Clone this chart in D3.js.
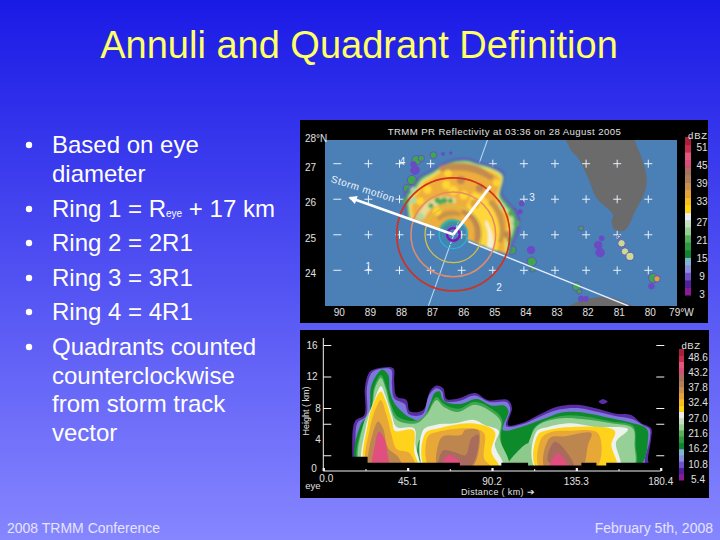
<!DOCTYPE html>
<html><head><meta charset="utf-8">
<script src="https://cdn.jsdelivr.net/npm/d3@7/dist/d3.min.js"></script>
<style>html,body{margin:0;padding:0;background:#2020e8;overflow:hidden}svg{display:block}text{font-family:"Liberation Sans",Arial,sans-serif}</style>
</head><body><div id="c"></div>
<script>
// ---------- slide text ----------
const titleText = "Annuli and Quadrant Definition";
const bulletLines = [
  ["Based on eye", true], ["diameter", false], ["Ring 1 = R|eye| + 17 km", true], ["Ring 2 = 2R1", true],
  ["Ring 3 = 3R1", true], ["Ring 4 = 4R1", true], ["Quadrants counted", true], ["counterclockwise", false],
  ["from storm track", false], ["vector", false]];
const bulletBaselines = [153,182,217,251,286,320,355,384,412,441];
const footerLeft = "2008 TRMM Conference", footerRight = "February 5th, 2008";

// ---------- map axes ----------
const mapTitle = "TRMM PR Reflectivity at 03:36 on 28 August 2005";
const lonTicks = [90,89,88,87,86,85,84,83,82,81,80,79];
const latTicks = [28,27,26,25,24];
const crossLons = [89,88,87,86,85,84,83,82,81,80];
const crossLats = [27,26,25,24];
const quadrantLabels = [["4",87.9,27.09],["3",83.74,26.06],["1",89.0,24.13],["2",84.8,23.53]];

// ---------- map geography (lon, lat) ----------
const florida = [[82.66,27.9],[80.43,27.9],[80.43,27.67],[80.21,27.15],[80.05,26.59],[80.11,26.21],[80.43,25.65],[80.75,25.13],[81.07,25.13],[81.18,25.37],[81.13,25.56],[81.66,26.03],[81.93,26.59],[82.25,27.15],[82.52,27.43]];
const cuba = [[82.79,22.8],[82.25,23.12],[81.18,23.23],[80.21,22.8]];
const trackNorth = [[85.17,27.67],[87.07,23.0]];
const trackEast = [[85.79,24.81],[80.64,23.0]];
const stormCentre = [86.27,25.01];
const motionTip = [89.59,26.04];
const rightTip = [85.07,26.37];

// ---------- rings, km ----------
const ringKm = [180.4,135.3,90.2,45.1,34,20];
const ringColours = ["#d0321f","#e58a68","#d8c044","#22b6d8","#2c9c9c","#7a18b4"];
const ringWidths = [1.7,1.5,1.3,1.3,1,2.4];

// ---------- storm reflectivity, bearing (deg) and km from eye ----------
const bearings = [-70,-60,-50,-40,-30,-20,-10,0,10,20,30,40,50,60,70,80,90,100,110];
const rimPurple = [161,178,204,204,215,217,227,240,247,246,253,254,204,205,217,217,204,192,191];
const rimGreen  = [155,172,197,198,209,211,221,234,241,240,247,248,198,199,208,208,196,186,187];
const rimPale   = [148,165,188,190,202,205,216,229,236,236,243,244,192,190,198,198,188,180,184];
const rimYellow = [142,158,178,182,195,199,211,224,231,231,238,238,185,180,188,186,178,172,180];
const rimOrange = [135,150,168,172,185,190,203,216,224,224,230,230,178,172,178,175,168,165,175];
const rimInner  = [48,48,46,46,46,46,46,46,46,46,46,46,46,46,46,46,46,46,46];
// bands: [bearing, inner km, outer km]
const bandYellowEast = [[25,98,150],[40,92,155],[60,92,150],[80,92,148],[100,90,148],[111,90,150]];
const bandWhiteEast = [[68,108,116],[85,110,122],[100,112,130],[111,115,135]];
const bandBrownInner = [[20,72,84],[45,72,90],[70,70,90],[95,68,88],[108,70,85]];
const bandBrownOuter = [[48,150,166],[65,152,170],[85,150,165],[100,145,158]];
const bandBrownNorth = [[-12,205,222],[5,205,230],[20,208,232],[35,210,228]];
const bandBrownWest = [[-45,62,76],[-20,60,78],[5,60,76],[20,62,72]];
const bandPaleNW = [[-62,106,130],[-40,108,132],[-18,102,126],[4,100,116]];
const bandInnerGreen = [[-75,38,50],[-40,38,50],[-5,38,50],[25,38,46]];
// mottling spots inside the echo: bearing, km, radius km, colour index
const spotBearing = [-62,-50,-45,-35,-30,-25,-15,-8,0,8,15,30,35,40,-5,60,70,80,95,90,-55,-42,-38,-22,-5];
const spotKm      = [120,170,150,90,165,120,112,160,140,175,130,170,120,215,195,180,195,205,180,170,185,190,116,112,108];
const spotSize    = [12,12,12,13,13,9,10,14,15,13,14,13,15,11,12,10,9,10,9,11,10,10,8,9,8];
const spotKind    = [1,1,4,4,4,3,3,4,4,0,4,0,5,4,4,1,3,3,3,0,3,1,3,3,3];
const spotFill = ["#c08a50","#b0d8a0","#f4f0d8","#4fa85a","#ffd634","#e6a23a"];
// isolated cells: lon, lat, radius km, colour index
const cellLons = [83.75,83.72,83.77,84.29,84.34,84.07,84.12,84.39,82.30,82.22,81.61,81.55,81.5,80.75,80.86,80.59,80.95,82.16,79.84,79.72,79.9,82.16,82.0,87.45,87.3,87.5,87.55,86.91,87.6,87.75,86.6,86.35];
const cellLats = [24.24,24.02,24.57,25.37,25.62,25.88,25.65,24.57,23.54,23.4,24.71,24.5,24.9,24.53,24.76,24.39,24.95,25.18,23.78,23.76,23.55,23.2,23.2,27.1,27.15,26.82,26.98,27.24,26.54,26.3,27.28,27.3];
const cellKm   = [15,8,12,16,13,8,7,14,14,8,12,14,8,12,12,13,5,8,15,10,9,9,8,15,10,14,9,11,15,13,5,4];
const cellKind = [1,1,0,1,1,0,0,1,1,1,0,0,0,2,2,2,2,1,1,3,0,0,0,1,1,0,0,1,1,1,0,0];
const cellFill = ["#6a4cc4","#3ea650","#c6dc90","#e0a040"];

// ---------- colour bars ----------
const topBarColours = ["#8a1a98","#521f9c","#6e50c8","#8a8ce0","#80b2d6","#0c8430","#2c9a40","#58ae5a","#96cf92","#c4dfc0","#ececec","#ffd410","#f6bc20","#e6a238","#c89050","#b07e58","#a8705e","#d84c78","#e0587e","#c82c50","#a82038"];
const topBarLabels = ["51","45","39","33","27","21","15","9","3"];
const topBarLabelY = [147,165,183,201,222,240,258,276,294];
const sectionBarLabels = ["48.6","43.2","37.8","32.4","27.0","21.6","16.2","10.8","5.4"];
const sectionBarLabelY = [357,372,387,402,418,433,448,464,479];

// ---------- vertical section ----------
const heightTicks = [16,12,8,6,2];
const heightLabels = [["16",16,312],["12",12,312],["8",8,318],["4",3.95,318],["0",0.3,314]];
const distMajor = [0,45.1,90.2,135.3,180.4];
const distMinor = [22.55,67.65,112.75,157.85];
const groundDist = [14,23.7,73,95.2,109.5,138,146,151.3,178];
const groundTop  = [1.8,1.06,0.7,1.06,0.7,1.06,0.7,1.06,1.06];
const secPurple = [[15.5,0.4],[15.5,1.8],[16.9,6.3],[21.9,7.1],[22.3,10.7],[24.9,12.6],[29.4,13.05],[37.4,13.05],[37.9,11.4],[39.2,9.45],[44.5,9],[46.3,7.6],[53.4,7.75],[57,10.1],[60.5,10.85],[64.1,10.5],[65.9,9.15],[72.1,9.2],[81,9.9],[88.1,9],[98.8,9],[100.9,8],[98.8,5.85],[105.9,6.05],[116.6,7.3],[125.5,8.2],[136.2,8.4],[145.1,8],[155.8,7.3],[164.7,7.1],[170,6.05],[175.3,5.4],[175.3,4.15],[173.6,1.6],[173.6,0.4]];
const secLavender = [[17.5,0.4],[17.5,1.8],[18.2,6.1],[22.9,7],[23.4,10.7],[26,12.5],[30,12.95],[36.2,12.9],[36.7,11],[38,9.2],[43.5,8.5],[45.8,7.2],[53,7.2],[56.5,9.6],[60.5,10.5],[63.5,10.1],[65,8.9],[72.5,8.9],[81,9.6],[89,8.75],[98,8.75],[100,7.9],[97.8,5.7],[106,5.9],[116.6,7],[126,7.8],[136.2,8],[145,7.6],[156,7],[165,6.6],[171,5.8],[174.5,5.3],[174.5,4],[172,1.6],[171,0.4]];
const secGreen = [[19,0.4],[20,5.9],[24.4,7.1],[25.5,10.7],[28.5,12.2],[31.5,12.9],[34.7,12.2],[35.6,10.1],[38.3,8.5],[41.8,7.6],[46.3,6.8],[52.5,6.4],[57,8.5],[59.6,9.9],[62.3,10.1],[64.1,9],[73,8.5],[82,9.15],[90,8.3],[97,8.3],[99,7.6],[96,5.2],[105.9,5.6],[116.6,6.5],[127,7.4],[136,7.5],[154,6.7],[165,6.1],[172.8,5.4],[173.6,4],[168,0.4]];
const secMidGreen = [[20,0.4],[21,5.7],[25.5,7.4],[27,10.5],[30.8,12.2],[33.8,10.6],[36,8.6],[40,6.9],[50,6.4],[55.6,7.5],[60.5,9.4],[64.5,8.5],[72.1,7.9],[81,8.8],[90,7.9],[95.5,6.6],[95,4.2],[99,0.4],[109,0.4],[112,5.2],[116.6,6.2],[127.3,7],[138,7],[154,6.3],[165.7,5.7],[167,3.3],[166,0.4]];
const secPale1 = [[20.5,0.4],[21.4,5.85],[26.2,8.4],[27.6,10.5],[30.8,11.8],[33.3,10.5],[35.6,8.4],[39.2,6.5],[49.8,6.05],[55.2,7.1],[60.5,9],[64.1,8.2],[72.1,7.5],[81,8.4],[89.9,7.5],[94.9,6.3],[94.3,4.15],[98.8,0.4]];
const secPale2 = [[109.5,0.4],[112.1,5],[116.6,6.05],[127.3,6.7],[138,6.6],[154,6.05],[165.5,5.4],[166.4,3.3],[165.5,0.4]];
const secHoleGreen = [[50.6,1.4],[51.5,3.9],[54,3.5],[55,1.5]];
const secFloorPale = [[98,0.4],[104,2.5],[110,3.5],[112,0.4]];
const secWhite = [
 [[21.8,0.4],[22.6,5.4],[27.6,9.2],[30.8,10.75],[33.3,9.5],[36.5,7.2],[39.2,5.6],[48.6,5.4],[49.3,3.3],[50.8,0.4]],
 [[54,0.4],[53.4,5.2],[59.6,5.85],[70.3,6.05],[80.1,6.5],[86.3,5.85],[93.8,5.1],[91.7,3.3],[96.1,0.4]],
 [[113.4,0.4],[113.9,5],[120.2,5.6],[132.6,6.05],[145.1,5.6],[162.9,5.3],[156.6,3.7],[158.4,0.4]]];
const secYellow = [
 [[22.7,0.4],[23.7,5.85],[27.2,8.8],[30.8,10.1],[33.3,8.95],[36.8,6.3],[38.3,5.1],[48.1,5.2],[48.6,2.45],[50.4,0.4]],
 [[54.6,0.4],[54.6,4.8],[61.4,5.4],[79.2,6.05],[91.7,5],[89.9,2.45],[93.8,0.4]],
 [[113.9,0.4],[114.8,4.6],[120.2,5.2],[132.6,5.6],[155.8,5.1],[154,3.3],[156.6,0.4]]];
const secOrange = [
 [[23.7,0.4],[24.9,5.4],[28.5,8.2],[30.8,9],[33.8,7.1],[36.5,4.6],[39.2,2.8],[46,2.3],[49,0.4]],
 [[57,0.4],[56,4.4],[61.4,5],[79.2,5.4],[86,4.8],[86,1.6],[90,0.4]],
 [[115.7,0.4],[116.6,4.15],[121,4.9],[132.6,5.1],[146.9,4.8],[146,0.4]]];
const secBrown = [
 [[24.9,0.4],[26.7,5],[29.4,6.3],[32,5.4],[34.7,2.9],[40,1.8],[42,0.4]],
 [[61.4,0.4],[61.4,3.3],[64,4.4],[74,4.6],[75.7,5.2],[82.8,5.2],[83.7,3.7],[79.2,0.4]],
 [[118.4,0.4],[121,4.15],[129,4.4],[143.3,4.8],[141.5,3.3],[138,0.4]]];
const secMauve = [
 [[62,0.4],[64,2.6],[70,2.4],[76,2],[79.2,4.15],[82.8,4.6],[81.9,2],[78,0.4]],
 [[120.2,1.2],[123.7,3.7],[130.8,2.2],[134,0.4]]];
const secPink = [
 [[26.7,0.4],[27.6,3.3],[29.7,5],[32.6,4.15],[34.7,1.6],[35.6,0.4]],
 [[63.2,0.4],[66.8,2],[72.1,1.4],[73.9,0.4]],
 [[121,0.4],[125.5,2.25],[130.8,0.4]]];
const secStray = [[147.3,8.8],[149.5,9.1],[152,8.8],[149.5,8.5]];

// ---------- drawing ----------
const W=720,H=540;
const svg=d3.select("#c").append("svg").attr("width",W).attr("height",H);
const defs=svg.append("defs");
const grad=defs.append("linearGradient").attr("id","bg").attr("x1",0).attr("y1",0).attr("x2",0).attr("y2",1);
grad.append("stop").attr("offset",0).attr("stop-color","#1a1ae6");
grad.append("stop").attr("offset",1).attr("stop-color","#8686ff");
svg.append("rect").attr("width",W).attr("height",H).attr("fill","url(#bg)");
defs.append("filter").attr("id","soft").append("feGaussianBlur").attr("stdDeviation",0.6);
defs.append("filter").attr("id","softer").append("feGaussianBlur").attr("stdDeviation",1);
defs.append("clipPath").attr("id","mapClip").append("rect").attr("x",325).attr("y",140).attr("width",352).attr("height",166);
defs.append("clipPath").attr("id","secClip").append("rect").attr("x",323).attr("y",335).attr("width",345).attr("height",136);
defs.append("marker").attr("id","head").attr("viewBox","0 0 10 10").attr("refX",8).attr("refY",5)
  .attr("markerWidth",4).attr("markerHeight",3.2).attr("orient","auto")
  .append("path").attr("d","M0,0L10,5L0,10Z").attr("fill","#fff");

svg.append("text").attr("x",359).attr("y",58).attr("text-anchor","middle").attr("font-size",38).attr("fill","#ffff66").text(titleText);

// bullets
const bl=svg.append("g").attr("fill","#fff");
bulletLines.forEach(([t,dot],i)=>{
  const y=bulletBaselines[i];
  if(dot) bl.append("circle").attr("cx",29).attr("cy",y-8).attr("r",3.2);
  const tx=bl.append("text").attr("x",52).attr("y",y).attr("font-size",24);
  t.split("|").forEach((p,j)=>{ tx.append("tspan").attr("font-size",j==1?10:24).text(p); });
});
svg.append("text").attr("x",7).attr("y",533).attr("font-size",14).attr("fill","#e4e4ff").text(footerLeft);
svg.append("text").attr("x",713).attr("y",533).attr("text-anchor","end").attr("font-size",14).attr("fill","#e4e4ff").text(footerRight);

// panels
svg.append("rect").attr("x",300).attr("y",120).attr("width",408).attr("height",203).attr("fill","#000");
svg.append("rect").attr("x",300).attr("y",330).attr("width",409).attr("height",168).attr("fill","#000");

// map
const x=d3.scaleLinear().domain([90,80]).range([337.3,648.3]);
const y=d3.scaleLinear().domain([27,24]).range([163.7,270.3]);
const km=d3.scaleLinear().domain([0,180.4]).range([0,56.5]);
const rad=d=>d*Math.PI/180;
const geo=d3.line().x(d=>x(d[0])).y(d=>y(d[1]));
const map=svg.append("g").attr("clip-path","url(#mapClip)");
map.append("rect").attr("x",325).attr("y",140).attr("width",352).attr("height",166).attr("fill","#4a80b6");
const landPath=d3.line().x(d=>x(d[0])).y(d=>y(d[1])).curve(d3.curveCatmullRomClosed);
[florida,cuba].forEach(p=>map.append("path").attr("d",landPath(p)).attr("fill","#6b6b6b"));
const cr=map.append("g").attr("stroke","#e8f0f8").attr("stroke-width",1);
crossLats.forEach(la=>{
  cr.append("line").attr("x1",x(90)-4).attr("x2",x(90)+4).attr("y1",y(la)).attr("y2",y(la));
  crossLons.forEach(lo=>{
    cr.append("line").attr("x1",x(lo)-4).attr("x2",x(lo)+4).attr("y1",y(la)).attr("y2",y(la));
    cr.append("line").attr("x1",x(lo)).attr("x2",x(lo)).attr("y1",y(la)-4).attr("y2",y(la)+4);
  });
});
map.append("path").attr("d",geo(trackNorth)).attr("stroke","#b4d8f4").attr("stroke-width",1.1).attr("fill","none");

const cells=map.append("g").attr("filter","url(#soft)");
cellLons.forEach((lo,i)=>{
  cells.append("circle").attr("cx",x(lo)).attr("cy",y(cellLats[i])).attr("r",km(cellKm[i])).attr("fill",cellFill[cellKind[i]])
    .attr("stroke",cellFill[0]).attr("stroke-width",0.9);
});
const rain=map.append("g").attr("filter","url(#softer)");
const storm=rain.append("g").attr("transform",`translate(${x(stormCentre[0])},${y(stormCentre[1])})`);
const radial=(outer,inner)=>d3.areaRadial().curve(d3.curveCatmullRom)
  .angle((d,i)=>rad(bearings[i])).outerRadius((d,i)=>km(outer[i])).innerRadius((d,i)=>km(inner[i]))(bearings);
[[rimPurple,"#6a4cc4"],[rimGreen,"#3ea650"],[rimPale,"#b8dca0"],[rimYellow,"#ffd030"],[rimOrange,"#eeae3c"]].forEach(([r,c])=>
  storm.append("path").attr("d",radial(r,rimInner)).attr("fill",c));
const band=d3.areaRadial().curve(d3.curveCatmullRom).angle(d=>rad(d[0])).innerRadius(d=>km(d[1])).outerRadius(d=>km(d[2]));
[[bandYellowEast,"#ffd63a"],[bandWhiteEast,"#f4f0d8"],[bandBrownInner,"#c08a50"],[bandBrownOuter,"#c8944c"],[bandBrownNorth,"#c28c50"],
 [bandBrownWest,"#c89448"],[bandPaleNW,"#e6dc98"],[bandInnerGreen,"#4aa46a"]].forEach(([b,c])=>
  storm.append("path").attr("d",band(b)).attr("fill",c));
spotBearing.forEach((b,i)=>{
  storm.append("circle").attr("cx",km(spotKm[i])*Math.sin(rad(b))).attr("cy",-km(spotKm[i])*Math.cos(rad(b)))
    .attr("r",km(spotSize[i])).attr("fill",spotFill[spotKind[i]]);
});

map.append("path").attr("d",geo(trackEast)).attr("stroke","#e4ecff").attr("stroke-width",1.5).attr("fill","none");
const rings=map.append("g").attr("transform",`translate(${x(stormCentre[0])},${y(stormCentre[1])})`);
ringKm.forEach((r,i)=>rings.append("circle").attr("r",km(r)).attr("fill","none").attr("stroke",ringColours[i]).attr("stroke-width",ringWidths[i]));
map.append("path").attr("d",geo([stormCentre,motionTip])).attr("stroke","#fff").attr("stroke-width",2.6).attr("fill","none").attr("marker-end","url(#head)");
map.append("path").attr("d",geo([stormCentre,rightTip])).attr("stroke","#fff").attr("stroke-width",2.8).attr("fill","none");
svg.append("text").attr("transform","translate(362,192) rotate(18)").attr("text-anchor","middle").attr("font-size",10).attr("letter-spacing",0.6).attr("fill","#f0f4ff").text("Storm motion");
quadrantLabels.forEach(([t,lo,la])=>svg.append("text").attr("x",x(lo)).attr("y",y(la)+4).attr("text-anchor","middle").attr("font-size",10).attr("fill","#f0f4ff").text(t));

const panelText=(g,t,px,py,a="middle",fs=10)=>g.append("text").attr("x",px).attr("y",py).attr("text-anchor",a).attr("font-size",fs).attr("fill","#e0e0e0").text(t);
panelText(svg,mapTitle,504.5,134.5,"middle",9.6).attr("letter-spacing",0.42);
lonTicks.forEach(l=>panelText(svg,l===79?"79°W":String(l),x(l)+2,316));
latTicks.forEach(l=>{
  if(l===28) panelText(svg,"28°N",305,142,"start");
  else panelText(svg,String(l),305,y(l)+7,"start");
});

// colour bars
const barY=d3.scaleBand().domain(d3.range(topBarColours.length)).range([295,137]);
svg.append("g").selectAll("rect").data(topBarColours).join("rect").attr("x",685).attr("width",6)
  .attr("y",(d,i)=>barY(i)).attr("height",barY.bandwidth()+0.5).attr("fill",d=>d);
panelText(svg,"dBZ",698,139,"middle",9.5).attr("letter-spacing",0.8);
topBarLabels.forEach((t,i)=>panelText(svg,t,702,topBarLabelY[i]+3.5,"middle"));
const barS=d3.scaleBand().domain(d3.range(topBarColours.length)).range([480,349]);
svg.append("g").selectAll("rect.s").data(topBarColours).join("rect").attr("x",679).attr("width",5)
  .attr("y",(d,i)=>barS(i)).attr("height",barS.bandwidth()+0.5).attr("fill",d=>d);
panelText(svg,"dBZ",691,349,"middle",9.5).attr("letter-spacing",0.6);
sectionBarLabels.forEach((t,i)=>panelText(svg,t,698,sectionBarLabelY[i]+3.5,"middle"));

// section
const sx=d3.scaleLinear().domain([0,180.4]).range([323.3,660.7]);
const sy=d3.scaleLinear().domain([0,16]).range([471,345]);
const poly=d3.line().x(d=>sx(d[0])).y(d=>sy(d[1])).curve(d3.curveCatmullRomClosed.alpha(0.5));
const secWrap=svg.append("g").attr("clip-path","url(#secClip)");
const sec=secWrap.append("g").attr("filter","url(#soft)");
const drawSec=(list,c)=>list.forEach(p=>sec.append("path").attr("d",poly(p)).attr("fill",c));
drawSec([secPurple,secStray],"#5a2da4");
drawSec([secLavender],"#7e78dc");
drawSec([secGreen],"#0c8a2c");
drawSec([secMidGreen],"#3ea650");
drawSec([secPale1,secPale2],"#96d096");
drawSec([secFloorPale],"#8cca8c");
drawSec([secHoleGreen],"#2c9a40");
drawSec(secWhite,"#eef2ea");
drawSec(secYellow,"#ffd21e");
drawSec(secOrange,"#e8a838");
drawSec(secBrown,"#bd8650");
drawSec(secMauve,"#a86c5c");
drawSec(secPink,"#e0507e");
secWrap.append("path").attr("fill","#000").attr("d",d3.area().curve(d3.curveStepAfter).x(d=>sx(d[0])).y0(sy(0)).y1(d=>sy(d[1]))(d3.zip(groundDist,groundTop)));

const axG=svg.append("g").attr("color","#f4f4f4");
axG.append("g").attr("transform",`translate(0,${sy(0)})`)
  .call(d3.axisBottom(sx).tickValues(distMajor).tickSize(-3).tickFormat(""))
  .call(g=>g.selectAll(".tick line").attr("stroke-width",2.2))
  .call(g=>g.select(".domain").attr("d",`M${sx(0)},0H${sx(180.4)}`));
axG.append("g").attr("transform",`translate(0,${sy(0)})`)
  .call(d3.axisBottom(sx).tickValues(distMinor).tickSize(-2).tickFormat(""))
  .call(g=>g.select(".domain").remove());
axG.append("g").attr("transform",`translate(${sx(0)},0)`)
  .call(d3.axisLeft(sy).tickValues(heightTicks).tickSize(-8).tickFormat(""))
  .call(g=>g.select(".domain").attr("d",`M0,338V${sy(0)}`));
axG.append("g").attr("transform",`translate(${sx(0)+333},0)`)
  .call(d3.axisLeft(sy).tickValues(heightTicks).tickSize(-8).tickFormat(""))
  .call(g=>g.select(".domain").remove());
heightLabels.forEach(([t,h,lx])=>panelText(svg,t,lx,sy(h)+3.5,"middle",10));
distMajor.forEach(d=>panelText(svg,d.toFixed(1),sx(d)+(d===0?3:0),d===0?482:485));
panelText(svg,"eye",313,489,"middle",9.5);
panelText(svg,"Distance ( km) ➔",498,495,"middle",9).attr("letter-spacing",0.35);
svg.append("text").attr("transform","translate(309,411) rotate(-90)").attr("text-anchor","middle").attr("font-size",9).attr("fill","#e0e0e0").text("Height ( km)");
</script></body></html>
